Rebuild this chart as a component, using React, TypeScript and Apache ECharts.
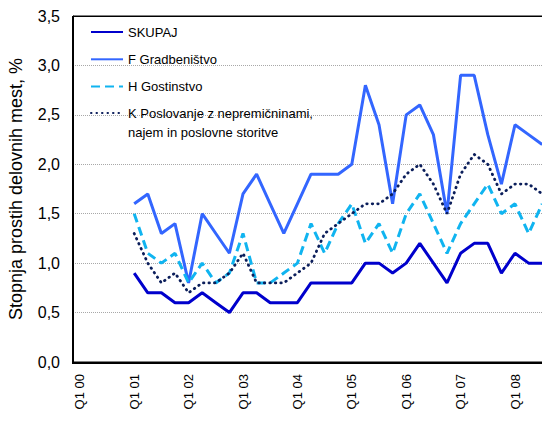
import React, { useEffect, useRef } from "react";
import * as echarts from "echarts";

const years = ["00", "01", "02", "03", "04", "05", "06", "07", "08"];
const categories: string[] = years
  .flatMap((y) => ["Q1 " + y, "Q2 " + y, "Q3 " + y, "Q4 " + y])
  .slice(0, 35);

// values from Q1 01 to Q3 08 (Q1 00 – Q4 00 empty)
const skupaj = [null, null, null, null,
  0.9, 0.7, 0.7, 0.6, 0.6, 0.7, 0.6, 0.5, 0.7, 0.7, 0.6, 0.6, 0.6, 0.8, 0.8, 0.8,
  0.8, 1.0, 1.0, 0.9, 1.0, 1.2, 1.0, 0.8, 1.1, 1.2, 1.2, 0.9, 1.1, 1.0, 1.0];
const gradbenistvo = [null, null, null, null,
  1.6, 1.7, 1.3, 1.4, 0.8, 1.5, 1.3, 1.1, 1.7, 1.9, 1.6, 1.3, 1.6, 1.9, 1.9, 1.9,
  2.0, 2.8, 2.4, 1.6, 2.5, 2.6, 2.3, 1.5, 2.9, 2.9, 2.3, 1.8, 2.4, 2.3, 2.2];
const gostinstvo = [null, null, null, null,
  1.5, 1.1, 1.0, 1.1, 0.8, 1.0, 0.8, 0.9, 1.3, 0.8, 0.8, 0.9, 1.0, 1.4, 1.1, 1.4,
  1.6, 1.2, 1.4, 1.1, 1.5, 1.7, 1.4, 1.1, 1.4, 1.6, 1.8, 1.5, 1.6, 1.3, 1.6];
const poslovanje = [null, null, null, null,
  1.3, 1.0, 0.8, 0.9, 0.7, 0.8, 0.8, 0.9, 1.1, 0.8, 0.8, 0.8, 0.9, 1.0, 1.3, 1.4,
  1.5, 1.6, 1.6, 1.7, 1.9, 2.0, 1.8, 1.5, 1.9, 2.1, 2.0, 1.7, 1.8, 1.8, 1.7];

const seriesNames = [
  "SKUPAJ",
  "F Gradbeništvo",
  "H Gostinstvo",
  "K Poslovanje z nepremičninami, najem in poslovne storitve",
];
const kLegendLines = ["K Poslovanje z nepremičninami,", "najem in poslovne storitve"];
const yTicks = [0, 3.5, 0.5];

const FONT = "Liberation Sans, Arial, Helvetica, sans-serif";

export default function App() {
  const ref = useRef<HTMLDivElement>(null);
  useEffect(() => {
    document.body.style.margin = "0";
    const chart = echarts.init(ref.current!, null, { renderer: "svg" });
    const rich = { a: { fontFamily: FONT, fontSize: 13, color: "#000", lineHeight: 19 } };
    const frame = { stroke: "#000", lineWidth: 1 };
    chart.setOption({
      animation: false,
      backgroundColor: "#fff",
      grid: {
        left: 73,
        top: 16,
        width: 476,
        height: 346,
        outerBoundsMode: "none",
        containLabel: false,
        show: true,
        borderColor: "#000",
        borderWidth: 1,
      },
      graphic: [
        { type: "line", z: 1, silent: true, shape: { x1: 72.5, y1: 16.5, x2: 542, y2: 16.5 }, style: frame },
        { type: "line", z: 1, silent: true, shape: { x1: 72.5, y1: 16.5, x2: 72.5, y2: 362.5 }, style: frame },
        { type: "line", z: 1, silent: true, shape: { x1: 72.5, y1: 362.5, x2: 542, y2: 362.5 }, style: frame },
      ],
      legend: [
        {
          data: seriesNames.slice(0, 3),
          orient: "vertical",
          left: 85,
          top: 20.5,
          itemWidth: 32,
          itemHeight: 10,
          itemGap: 14.3,
          itemStyle: { opacity: 0 },
          formatter: (n: string) => `{a|${n}}`,
          textStyle: { rich },
        },
        {
          data: [seriesNames[3]],
          orient: "vertical",
          left: 85,
          top: 101.5,
          itemWidth: 32,
          itemHeight: 10,
          itemStyle: { opacity: 0 },
          formatter: () => kLegendLines.map((l) => `{a|${l}}`).join("\n"),
          textStyle: { rich, padding: [19, 0, 0, 0] },
        },
      ],
      xAxis: {
        type: "category",
        data: categories,
        boundaryGap: true,
        axisLine: { show: true, lineStyle: { color: "#000", width: 1 } },
        axisTick: { show: false },
        axisLabel: {
          interval: 3,
          rotate: 90,
          margin: 12,
          fontFamily: FONT,
          fontSize: 13,
          color: "#000",
        },
        splitLine: { show: false },
      },
      yAxis: {
        type: "value",
        min: yTicks[0],
        max: yTicks[1],
        interval: yTicks[2],
        name: "Stopnja prostih delovnih mest, %",
        nameLocation: "middle",
        nameGap: 48,
        nameTextStyle: { fontFamily: FONT, fontSize: 18, color: "#000" },
        axisLine: { show: true, lineStyle: { color: "#000", width: 1 } },
        axisTick: { show: false },
        axisLabel: {
          margin: 13,
          fontFamily: FONT,
          fontSize: 16,
          color: "#000",
          formatter: (v: number) => v.toFixed(1).replace(".", ","),
        },
        splitLine: {
          show: true,
          showMinLine: false,
          showMaxLine: false,
          lineStyle: { color: "#A8A8A8", type: "dotted", width: 1 },
        },
      },
      series: [
        {
          name: seriesNames[0],
          type: "line",
          data: skupaj,
          symbol: "none",
          z: 3,
          lineStyle: { color: "#0000CC", width: 3 },
          itemStyle: { color: "#0000CC" },
        },
        {
          name: seriesNames[1],
          type: "line",
          data: gradbenistvo,
          symbol: "none",
          z: 3,
          lineStyle: { color: "#3366FF", width: 3 },
          itemStyle: { color: "#3366FF" },
        },
        {
          name: seriesNames[2],
          type: "line",
          data: gostinstvo,
          symbol: "none",
          z: 3,
          lineStyle: { color: "#10B4F0", width: 3, type: [9, 5] },
          itemStyle: { color: "#10B4F0" },
        },
        {
          name: seriesNames[3],
          type: "line",
          data: poslovanje,
          symbol: "none",
          z: 3,
          lineStyle: { color: "#0B1E5B", width: 2.8, type: [0.5, 5], cap: "round" },
          itemStyle: { color: "#0B1E5B" },
        },
      ],
    });
    return () => chart.dispose();
  }, []);
  return (
    <div style={{ position: "fixed", left: 0, top: 0, width: 542, height: 425, overflow: "hidden" }}>
      <div ref={ref} style={{ position: "absolute", left: 0, top: 0, width: 542, height: 425 }} />
      <div
        style={{
          position: "absolute",
          left: 72,
          top: 16,
          width: 480,
          height: 346,
          borderLeft: "1px solid #000",
          borderTop: "1px solid #000",
          borderBottom: "1px solid #000",
          pointerEvents: "none",
        }}
      />
    </div>
  );
}
